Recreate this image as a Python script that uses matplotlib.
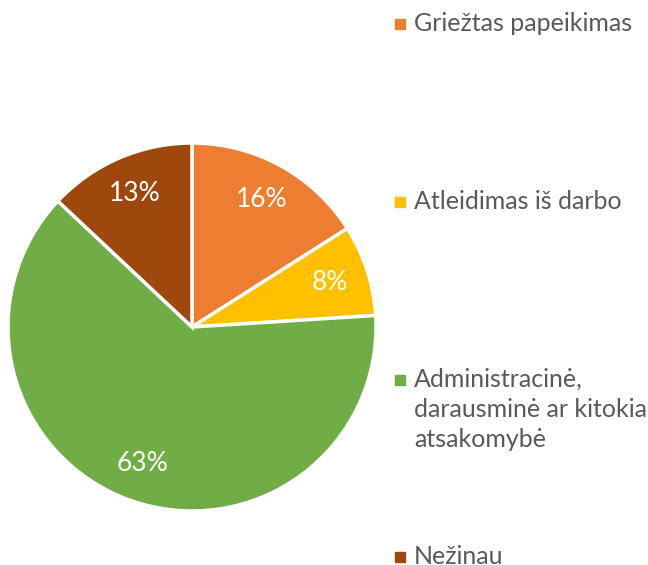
import matplotlib.pyplot as plt
from matplotlib.patches import Rectangle

plt.rcParams['font.family'] = ['Lato', 'DejaVu Sans']

# data
labels = ['Griežtas papeikimas', 'Atleidimas iš darbo',
          'Administracinė,\ndarausminė ar kitokia\natsakomybė', 'Nežinau']
values = [16, 8, 63, 13]
colors = ['#ED7D31', '#FFC000', '#70AD47', '#9E480E']

W, H = 648, 565
fig = plt.figure(figsize=(W / 100, H / 100), dpi=100)

# pie centre (192, 327) px, radius 184 px
cx, cy, r = 192, 327, 184
ax = fig.add_axes([(cx - r) / W, (H - cy - r) / H, 2 * r / W, 2 * r / H])
wedges, texts, autotexts = ax.pie(
    values, colors=colors, startangle=90, counterclock=False,
    autopct='%1.0f%%', pctdistance=0.79,
    wedgeprops=dict(edgecolor='white', linewidth=2.5),
    textprops=dict(color='white', fontsize=19))
ax.set_xlim(-1, 1)
ax.set_ylim(-1, 1)
ax.set_aspect('equal')
ax.axis('off')

# legend placed by hand, one entry per slice
legend_base = [31, 209, 387, 564]   # baseline of first text line, px from top
for lab, col, b in zip(labels, colors, legend_base):
    fig.patches.append(Rectangle((395 / W, 1 - (b - 2) / H), 10 / W, 10 / H,
                                 transform=fig.transFigure, color=col))
    fig.text(414 / W, 1 - (b - 19) / H, lab, fontsize=18, color='#595959',
             va='top', ha='left', linespacing=1.36)

fig.savefig('out.png', dpi=100)
